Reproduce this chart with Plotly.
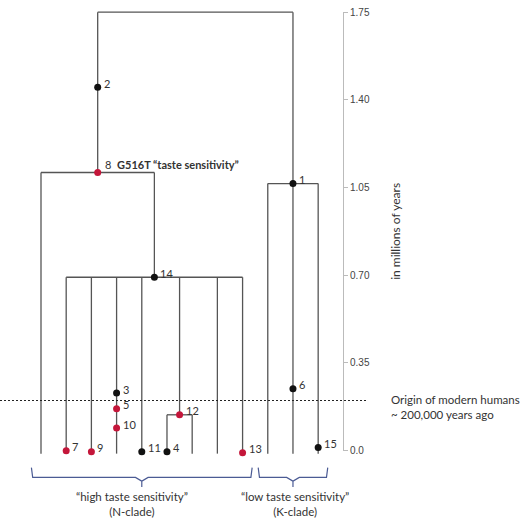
import plotly.graph_objects as go

# tips are evenly spaced; x is the tip index, y is age in millions of years
leaf_x = list(range(12))
tip_age = -0.012

node_age = {"root": 1.75, "n8": 1.11, "n1": 1.066, "n14": 0.692, "n12": 0.143}
children = {
    "root": ["n8", "n1"],
    "n8": [0, "n14"],
    "n14": [1, 2, 3, 4, "n12", 7, 8],
    "n12": [5, 6],
    "n1": [9, 10, 11],
}

# numbered mutations placed on the branches
mut_id = [1, 2, 3, 4, 5, 6, 7, 8, 9, 10, 11, 12, 13, 14, 15]
mut_x = [10, 2.25, 3, 5, 3, 10, 1, 2.25, 2, 3, 4, 5.5, 8, 4.5, 11]
mut_y = [1.066, 1.45, 0.23, -0.004, 0.167, 0.247, 0.0, 1.11, -0.004, 0.09,
         -0.004, 0.143, -0.008, 0.692, 0.012]
red_ids = [5, 7, 8, 9, 10, 12, 13]

modern_humans = 0.2
tick_vals = [0.0, 0.35, 0.70, 1.05, 1.40, 1.75]
tick_text = ["0.0", "0.35", "0.70", "1.05", "1.40", "1.75"]

clade_names = ["“high taste sensitivity”<br>(N-clade)", "“low taste sensitivity”<br>(K-clade)"]
clade_leaves = [[0, 8], [9, 11]]
clade_label_x = [3.6, 10.1]

LINE = "#555555"
RED = "#c4163a"
BRACE = "#4b5b94"


def node_x(n):
    if isinstance(n, int):
        return leaf_x[n]
    kids = children[n]
    return (node_x(kids[0]) + node_x(kids[-1])) / 2


def age(n):
    return tip_age if isinstance(n, int) else node_age[n]


seg_x, seg_y = [], []
for parent, kids in children.items():
    pa = node_age[parent]
    seg_x += [node_x(kids[0]), node_x(kids[-1]), None]
    seg_y += [pa, pa, None]
    for k in kids:
        seg_x += [node_x(k), node_x(k), None]
        seg_y += [age(k), pa, None]

fig = go.Figure()

fig.add_trace(go.Scatter(x=seg_x, y=seg_y, mode="lines",
                         line=dict(color=LINE, width=1.3),
                         hoverinfo="skip", showlegend=False))

# curly-ish brackets under each clade
for (a, b) in clade_leaves:
    x0, x1 = leaf_x[a] - 0.38, leaf_x[b] + 0.38
    xc = (leaf_x[a] + leaf_x[b]) / 2
    bx = [x0, x0 + 0.05, xc - 0.25, xc, xc, xc, xc + 0.25, x1 - 0.05, x1]
    by = [-0.068, -0.107, -0.107, -0.122, -0.145, -0.122, -0.107, -0.107, -0.068]
    fig.add_trace(go.Scatter(x=bx, y=by, mode="lines",
                             line=dict(color=BRACE, width=1.2),
                             hoverinfo="skip", showlegend=False))

colors = [RED if i in red_ids else "#111111" for i in mut_id]
fig.add_trace(go.Scatter(x=mut_x, y=mut_y, mode="markers",
                         marker=dict(color=colors, size=7),
                         cliponaxis=False, showlegend=False,
                         text=[str(i) for i in mut_id], hoverinfo="text"))

# empty trace so the time axis shows
fig.add_trace(go.Scatter(x=[None], y=[None], yaxis="y2", showlegend=False))

for i, x, y in zip(mut_id, mut_x, mut_y):
    txt = str(i)
    xs, ys = 4, 4
    if i == 8:
        txt = "8  <b>G516T “taste sensitivity”</b>"
        xs, ys = 5, 8
    fig.add_annotation(x=x, y=y, text=txt, showarrow=False,
                       xanchor="left", yanchor="middle", xshift=xs, yshift=ys,
                       font=dict(family="Lato", size=11, color="#333333"))

for name, lx in zip(clade_names, clade_label_x):
    fig.add_annotation(x=lx, y=-0.214, text=name, showarrow=False,
                       xanchor="center", yanchor="middle",
                       font=dict(family="Lato", size=11.5, color="#333333"))

fig.add_shape(type="line", xref="paper", yref="y", x0=0, x1=367 / 520,
              y0=modern_humans, y1=modern_humans,
              line=dict(color="#222222", width=1, dash="2px,2px"))
fig.add_annotation(xref="paper", yref="y", x=389 / 520, y=modern_humans,
                   text="Origin of modern humans<br>~ 200,000 years ago",
                   showarrow=False, xanchor="left", yanchor="middle", align="left",
                   yshift=-6, font=dict(family="Lato", size=11.5, color="#333333"))

fig.update_layout(
    autosize=True,
    margin=dict(l=0, r=0, t=0, b=0),
    paper_bgcolor="white", plot_bgcolor="rgba(0,0,0,0)",
    xaxis=dict(range=[-1.627, 19.01], visible=False),
    yaxis=dict(range=[-0.2609, 1.7745], visible=False),
    yaxis2=dict(domain=[0.1282, 0.988], range=[0, 1.75],
                anchor="free", position=343 / 520, side="right",
                showline=True, linecolor="#bbbbbb", linewidth=1,
                ticks="outside", ticklen=4, tickcolor="#bbbbbb",
                tickvals=tick_vals, ticktext=tick_text,
                tickfont=dict(family="Liberation Sans", size=10, color="#444444"),
                showgrid=False, zeroline=False,
                title=dict(text="in millions of years", standoff=22,
                           font=dict(family="Lato", size=12, color="#333333"))),
)

# fill the window exactly, no page margin
fig.write_html("out.html",
               config={"displayModeBar": False},
               default_width="100vw", default_height="100vh",
               post_script="document.body.style.margin='0';"
                           "document.body.style.overflow='hidden';"
                           "Plotly.Plots.resize(document.getElementById('{plot_id}'));")
